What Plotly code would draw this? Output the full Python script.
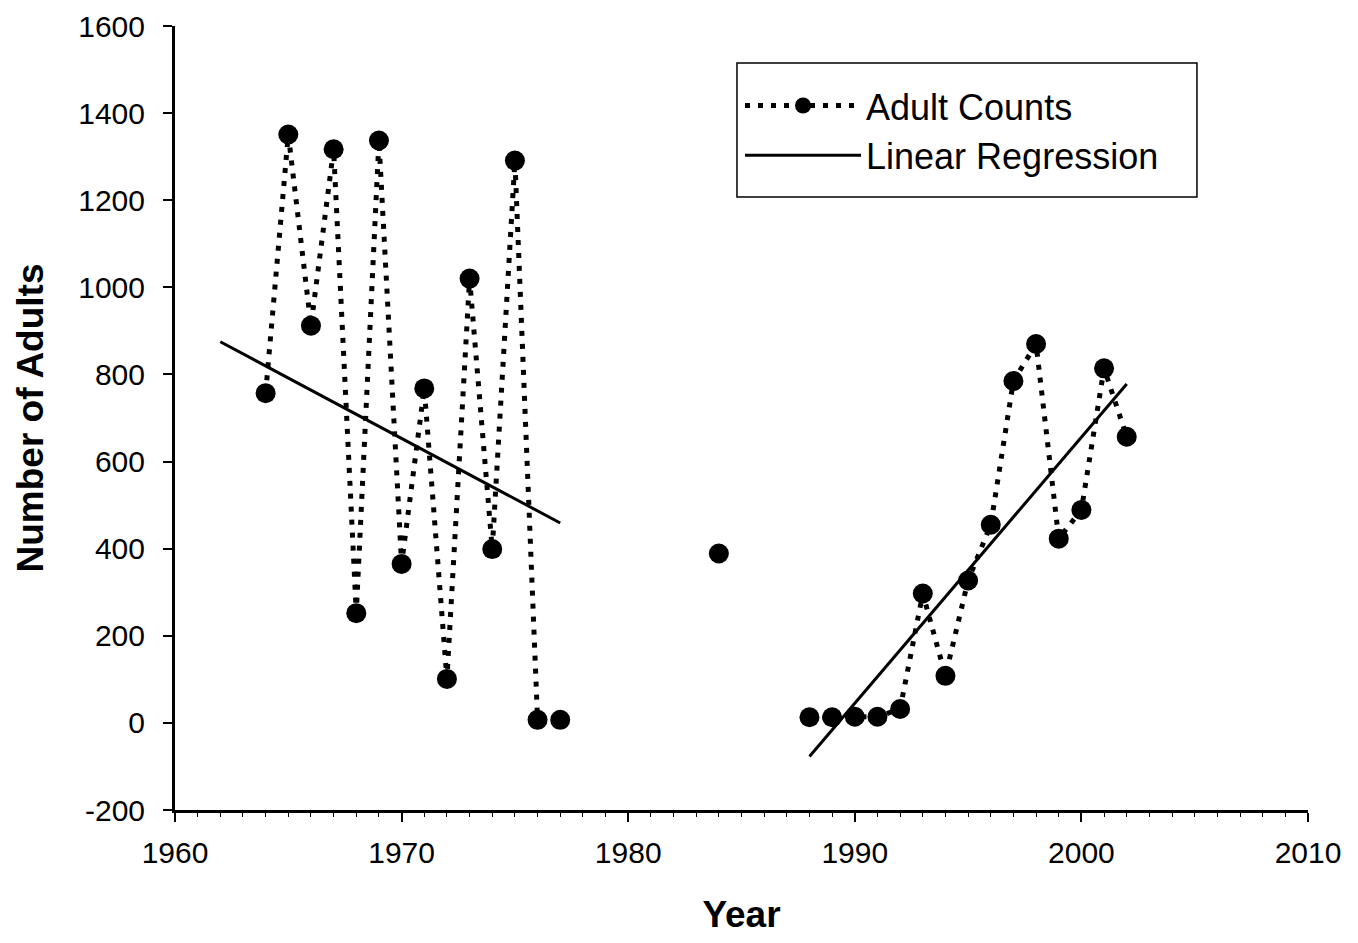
import plotly.graph_objects as go

# Adult counts (None = break in the dotted line)
years = [1964, 1965, 1966, 1967, 1968, 1969, 1970, 1971, 1972, 1973, 1974, 1975, 1976, 1977,
         1980, 1984, 1986,
         1988, 1989, 1990, 1991, 1992, 1993, 1994, 1995, 1996, 1997, 1998, 1999, 2000, 2001, 2002]
counts = [757, 1351, 912, 1317, 252, 1337, 365, 768, 101, 1020, 399, 1291, 7, 7,
          None, 389, None,
          13, 13, 14, 14, 32, 297, 108, 327, 455, 785, 870, 423, 489, 814, 657]

# Linear regression segments
reg_x = [1962, 1977, None, 1988, 2002]
reg_y = [875, 459, None, -77, 778]

x_ticks = [1960, 1970, 1980, 1990, 2000, 2010]
y_ticks = [-200, 0, 200, 400, 600, 800, 1000, 1200, 1400, 1600]

fig = go.Figure()
fig.add_trace(go.Scatter(
    x=years, y=counts, mode="lines+markers", name="Adult Counts",
    line=dict(color="black", width=5, dash="5px,8px"),
    marker=dict(color="black", size=20),
    connectgaps=False,
))
fig.add_trace(go.Scatter(
    x=reg_x, y=reg_y, mode="lines", name="Linear Regression",
    line=dict(color="black", width=3),
    connectgaps=False,
))

font_family = "Liberation Sans, Arial, sans-serif"
fig.update_layout(
    width=1342, height=927,
    margin=dict(l=167, r=42, t=18, b=125, autoexpand=False),
    paper_bgcolor="white", plot_bgcolor="white",
    font=dict(family=font_family, color="black", size=30),
    showlegend=True,
    legend=dict(
        x=0.4987, y=0.9367, xanchor="left", yanchor="top",
        bgcolor="rgba(0,0,0,0)", borderwidth=0,
        font=dict(size=36, family=font_family),
        itemwidth=116, tracegroupgap=0,
    ),
    shapes=[dict(type="rect", xref="paper", yref="paper",
                 x0=0.4960, x1=0.9020, y0=0.7819, y1=0.9528,
                 line=dict(color="black", width=1.5), fillcolor="white", layer="below")],
    xaxis=dict(
        range=[1960, 2010], tickvals=x_ticks, ticktext=[str(v) for v in x_ticks],
        showgrid=False, zeroline=False, showline=True, linecolor="black", linewidth=3,
        ticks="outside", ticklen=9, tickwidth=2, tickcolor="black",
        minor=dict(dtick=1, ticks="outside", ticklen=4, tickwidth=1, tickcolor="black"),
        title=dict(text="<b>Year</b>", font=dict(size=37), standoff=34),
        tickfont=dict(size=30), ticklabelstandoff=5, automargin=False,
        ticklabeloverflow="allow",
    ),
    yaxis=dict(
        range=[-200, 1600], tickvals=y_ticks, ticktext=[str(v) for v in y_ticks],
        showgrid=False, zeroline=False, showline=True, linecolor="black", linewidth=3,
        ticks="outside", ticklen=9, tickwidth=2, tickcolor="black",
        title=dict(text="<b>Number of Adults</b>", font=dict(size=37), standoff=24),
        tickfont=dict(size=30), ticklabelstandoff=12, automargin=False,
        ticklabeloverflow="allow",
    ),
)

fig.write_html("out.html")
